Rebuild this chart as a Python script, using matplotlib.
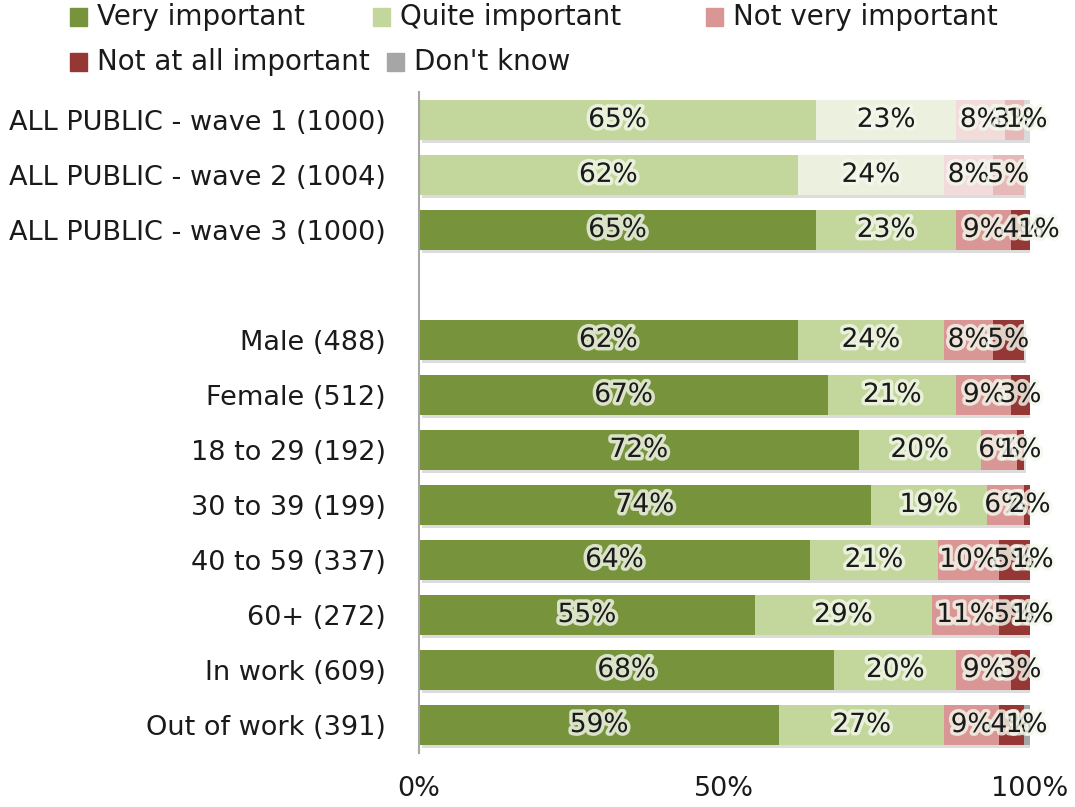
import numpy as np
import matplotlib.pyplot as plt
import matplotlib.patheffects as pe
from matplotlib.patches import Rectangle

# survey rows, top to bottom
groups = ['ALL PUBLIC - wave 1 (1000)', 'ALL PUBLIC - wave 2 (1004)', 'ALL PUBLIC - wave 3 (1000)',
          'Male (488)', 'Female (512)', '18 to 29 (192)', '30 to 39 (199)',
          '40 to 59 (337)', '60+ (272)', 'In work (609)', 'Out of work (391)']
very_important = [65, 62, 65, 62, 67, 72, 74, 64, 55, 68, 59]
quite_important = [23, 24, 23, 24, 21, 20, 19, 21, 29, 20, 27]
not_very = [8, 8, 9, 8, 9, 6, 6, 10, 11, 9, 9]
not_at_all = [3, 5, 4, 5, 3, 1, 2, 5, 5, 3, 4]
dont_know = [1, 0, 1, 0, 0, 0, 0, 1, 1, 0, 1]

categories = ['Very important', 'Quite important', 'Not very important',
              'Not at all important', "Don't know"]
colors = ['#77933c', '#c3d69b', '#d99694', '#953735', '#a6a6a6']
faded = ['#c3d69b', '#ebf1de', '#f2dcdb', '#e6b9b8', '#d9d9d9']
n_faded = 2  # earlier waves drawn in the pale palette

series = [very_important, quite_important, not_very, not_at_all, dont_know]

fig = plt.figure(figsize=(10.75, 8.07), dpi=100)
ax = fig.add_axes([0.3898, 0.0675, 0.568, 0.818])

# leave an empty slot between the waves and the breakdowns
ypos = [0, 1, 2] + list(range(4, 12))
shadow = [pe.SimplePatchShadow(offset=(2, -2.5), shadow_rgbFace='#8c8c8c', alpha=0.3), pe.Normal()]
glow = [pe.withStroke(linewidth=5, foreground='#f4f8ec', alpha=0.8)]

for i, y in enumerate(ypos):
    left = 0
    pal = faded if i < n_faded else colors
    for k, vals in enumerate(series):
        v = vals[i]
        if v == 0:
            continue
        ax.barh(y, v, left=left, height=0.72, color=pal[k], edgecolor='none',
                path_effects=shadow)
        ax.text(left + v / 2, y, f'{v}%', ha='center', va='center', fontsize=19,
                color='#1a1a1a', path_effects=glow, zorder=5)
        left += v

ax.set_xlim(0, 100)
ax.set_ylim(11.5, -0.5)
ax.set_yticks(ypos)
ax.set_yticklabels(groups, fontsize=19.5, color='#1a1a1a')
ax.set_xticks([0, 50, 100])
ax.set_xticklabels(['0%', '50%', '100%'], fontsize=19.5, color='#1a1a1a')
ax.tick_params(axis='y', length=0, pad=24)
ax.tick_params(axis='x', length=0, pad=17)
for s in ['top', 'right', 'bottom']:
    ax.spines[s].set_visible(False)
ax.spines['left'].set_color('#a6a6a6')
ax.spines['left'].set_linewidth(1.5)

# legend laid out in two rows across the top
legend_pos = [(70, 17), (373, 17), (706, 17), (70, 62), (387, 62)]
W, H = 1075, 807
for (px, py), name, c in zip(legend_pos, categories, colors):
    fig.patches.append(Rectangle((px / W, 1 - (py + 9) / H), 17 / W, 18 / H,
                                 transform=fig.transFigure, color=c))
    fig.text((px + 27) / W, 1 - py / H, name, fontsize=20, va='center', ha='left',
             color='#1a1a1a')

plt.savefig('out.png', dpi=100)
